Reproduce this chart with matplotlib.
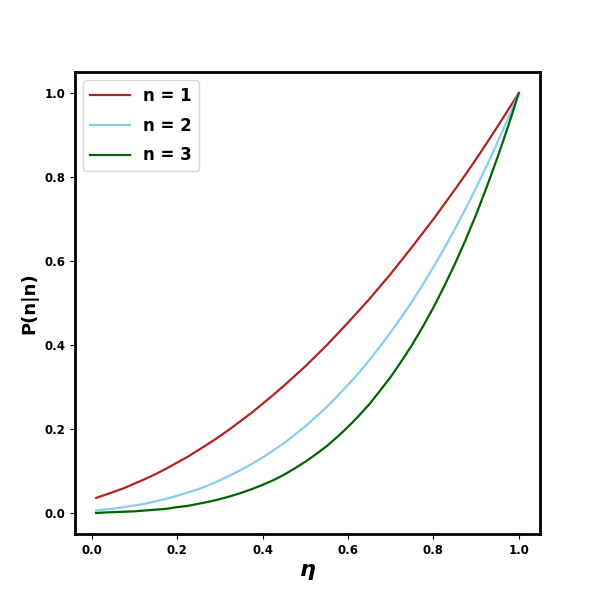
import numpy as np
import matplotlib
matplotlib.use("Agg")
import matplotlib.pyplot as plt

# values
eta = [0.01, 0.025, 0.05, 0.075, 0.10, 0.125, 0.15, 0.175, 0.20, 0.225, 0.25,
       0.275, 0.30, 0.325, 0.35, 0.375, 0.40, 0.425, 0.45, 0.475, 0.50,
       0.525, 0.55, 0.575, 0.60, 0.625, 0.65, 0.675, 0.70, 0.725, 0.75,
       0.775, 0.80, 0.825, 0.85, 0.875, 0.90, 0.925, 0.95, 0.975, 1.00]
p_n1 = [0.037, 0.042, 0.051, 0.060, 0.071, 0.082, 0.094, 0.107, 0.121, 0.135, 0.151,
        0.167, 0.184, 0.202, 0.221, 0.240, 0.261, 0.282, 0.304, 0.327, 0.350,
        0.375, 0.400, 0.427, 0.454, 0.482, 0.510, 0.540, 0.570, 0.602, 0.634,
        0.667, 0.700, 0.735, 0.770, 0.806, 0.843, 0.881, 0.920, 0.960, 1.000]
p_n2 = [0.007, 0.009, 0.011, 0.015, 0.019, 0.023, 0.029, 0.035, 0.042, 0.050, 0.058,
        0.068, 0.079, 0.091, 0.104, 0.118, 0.133, 0.150, 0.167, 0.187, 0.207,
        0.230, 0.253, 0.279, 0.306, 0.334, 0.365, 0.397, 0.431, 0.467, 0.504,
        0.544, 0.586, 0.630, 0.676, 0.724, 0.775, 0.827, 0.883, 0.940, 1.000]
p_n3 = [0.001, 0.002, 0.003, 0.004, 0.005, 0.007, 0.009, 0.011, 0.015, 0.018, 0.023,
        0.028, 0.034, 0.041, 0.049, 0.058, 0.068, 0.079, 0.092, 0.107, 0.123,
        0.141, 0.160, 0.182, 0.206, 0.232, 0.260, 0.292, 0.325, 0.362, 0.401,
        0.444, 0.490, 0.540, 0.593, 0.650, 0.711, 0.777, 0.847, 0.921, 1.000]

labels = ["n = 1", "n = 2", "n = 3"]
colors = ["firebrick", "skyblue", "darkgreen"]

fig, ax = plt.subplots(figsize=(6, 6), dpi=100)

for ys, lab, c in zip([p_n1, p_n2, p_n3], labels, colors):
    ax.plot(eta, ys, color=c, lw=1.6, label=lab)

ax.set_xlabel(r"$\boldsymbol{\eta}$", fontsize=16)
ax.set_ylabel("P(n|n)", fontsize=13, fontweight="bold")
ax.set_xticks([0.0, 0.2, 0.4, 0.6, 0.8, 1.0])
ax.set_yticks([0.0, 0.2, 0.4, 0.6, 0.8, 1.0])
for t in ax.get_xticklabels() + ax.get_yticklabels():
    t.set_fontweight("bold")
    t.set_fontsize(8.5)

for s in ax.spines.values():
    s.set_linewidth(2)

ax.legend(loc="upper left", prop={"size": 12, "weight": "bold"},
          labelspacing=0.7, handlelength=2.4)

plt.savefig("out.png", dpi=100)
